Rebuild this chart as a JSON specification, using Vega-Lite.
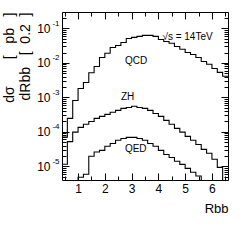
{
  "$schema": "https://vega.github.io/schema/vega-lite/v6.json",
  "width": 166,
  "height": 168,
  "autosize": "none",
  "padding": {"left": 62, "top": 12, "right": 13, "bottom": 61},
  "background": "white",
  "config": {
    "font": "Liberation Sans",
    "view": {"stroke": "black", "strokeWidth": 1},
    "axis": {"grid": false, "domain": false, "tickColor": "black", "labelColor": "black", "titleColor": "black", "labelFont": "Liberation Sans", "titleFont": "Liberation Sans", "titleFontWeight": "normal", "labelOverlap": false, "labelFlush": false}
  },
  "datasets": {
    "hist": [
      {"s": "QCD", "x": 0.4, "v": 7e-5}, {"s": "QCD", "x": 0.6, "v": 0.000246}, {"s": "QCD", "x": 0.8, "v": 0.00081},
      {"s": "QCD", "x": 1.0, "v": 0.0018}, {"s": "QCD", "x": 1.2, "v": 0.0027}, {"s": "QCD", "x": 1.4, "v": 0.0052},
      {"s": "QCD", "x": 1.6, "v": 0.0079}, {"s": "QCD", "x": 1.8, "v": 0.0144}, {"s": "QCD", "x": 2.0, "v": 0.019},
      {"s": "QCD", "x": 2.2, "v": 0.028}, {"s": "QCD", "x": 2.4, "v": 0.032}, {"s": "QCD", "x": 2.6, "v": 0.039},
      {"s": "QCD", "x": 2.8, "v": 0.051}, {"s": "QCD", "x": 3.0, "v": 0.055}, {"s": "QCD", "x": 3.2, "v": 0.059},
      {"s": "QCD", "x": 3.4, "v": 0.063}, {"s": "QCD", "x": 3.6, "v": 0.063}, {"s": "QCD", "x": 3.8, "v": 0.059},
      {"s": "QCD", "x": 4.0, "v": 0.048}, {"s": "QCD", "x": 4.2, "v": 0.042}, {"s": "QCD", "x": 4.4, "v": 0.037},
      {"s": "QCD", "x": 4.6, "v": 0.030}, {"s": "QCD", "x": 4.8, "v": 0.025}, {"s": "QCD", "x": 5.0, "v": 0.020},
      {"s": "QCD", "x": 5.2, "v": 0.0176}, {"s": "QCD", "x": 5.4, "v": 0.0144}, {"s": "QCD", "x": 5.6, "v": 0.011},
      {"s": "QCD", "x": 5.8, "v": 0.0091}, {"s": "QCD", "x": 6.0, "v": 0.0069}, {"s": "QCD", "x": 6.2, "v": 0.0053},
      {"s": "QCD", "x": 6.4, "v": 0.0041}, {"s": "QCD", "x": 6.6, "v": 0.0041},
      {"s": "ZH", "x": 0.4, "v": 1.15e-5}, {"s": "ZH", "x": 0.6, "v": 5.2e-5}, {"s": "ZH", "x": 0.8, "v": 9.8e-5},
      {"s": "ZH", "x": 1.0, "v": 0.000135}, {"s": "ZH", "x": 1.2, "v": 0.000166}, {"s": "ZH", "x": 1.4, "v": 0.0002},
      {"s": "ZH", "x": 1.6, "v": 0.000245}, {"s": "ZH", "x": 1.8, "v": 0.00028}, {"s": "ZH", "x": 2.0, "v": 0.00032},
      {"s": "ZH", "x": 2.2, "v": 0.00037}, {"s": "ZH", "x": 2.4, "v": 0.00042}, {"s": "ZH", "x": 2.6, "v": 0.00048},
      {"s": "ZH", "x": 2.8, "v": 0.00051}, {"s": "ZH", "x": 3.0, "v": 0.00055}, {"s": "ZH", "x": 3.2, "v": 0.00051},
      {"s": "ZH", "x": 3.4, "v": 0.00048}, {"s": "ZH", "x": 3.6, "v": 0.00042}, {"s": "ZH", "x": 3.8, "v": 0.00034},
      {"s": "ZH", "x": 4.0, "v": 0.00028}, {"s": "ZH", "x": 4.2, "v": 0.000215}, {"s": "ZH", "x": 4.4, "v": 0.000166},
      {"s": "ZH", "x": 4.6, "v": 0.000126}, {"s": "ZH", "x": 4.8, "v": 9.8e-5}, {"s": "ZH", "x": 5.0, "v": 7.4e-5},
      {"s": "ZH", "x": 5.2, "v": 5.7e-5}, {"s": "ZH", "x": 5.4, "v": 4.3e-5}, {"s": "ZH", "x": 5.6, "v": 3.1e-5},
      {"s": "ZH", "x": 5.8, "v": 2.4e-5}, {"s": "ZH", "x": 6.0, "v": 1.6e-5}, {"s": "ZH", "x": 6.2, "v": 9.3e-6},
      {"s": "ZH", "x": 6.4, "v": 1e-7}, {"s": "ZH", "x": 6.6, "v": 1e-7},
      {"s": "QED", "x": 0.8, "v": 1e-7}, {"s": "QED", "x": 1.0, "v": 4.8e-6}, {"s": "QED", "x": 1.2, "v": 5.9e-6},
      {"s": "QED", "x": 1.4, "v": 1.95e-5}, {"s": "QED", "x": 1.6, "v": 2.6e-5}, {"s": "QED", "x": 1.8, "v": 2.9e-5},
      {"s": "QED", "x": 2.0, "v": 3.8e-5}, {"s": "QED", "x": 2.2, "v": 4.6e-5}, {"s": "QED", "x": 2.4, "v": 5.7e-5},
      {"s": "QED", "x": 2.6, "v": 6.4e-5}, {"s": "QED", "x": 2.8, "v": 6.9e-5}, {"s": "QED", "x": 3.0, "v": 6.9e-5},
      {"s": "QED", "x": 3.2, "v": 6.4e-5}, {"s": "QED", "x": 3.4, "v": 5.7e-5}, {"s": "QED", "x": 3.6, "v": 4.6e-5},
      {"s": "QED", "x": 3.8, "v": 3.8e-5}, {"s": "QED", "x": 4.0, "v": 2.9e-5}, {"s": "QED", "x": 4.2, "v": 2.2e-5},
      {"s": "QED", "x": 4.4, "v": 1.8e-5}, {"s": "QED", "x": 4.6, "v": 1.4e-5}, {"s": "QED", "x": 4.8, "v": 1.14e-5},
      {"s": "QED", "x": 5.0, "v": 8.7e-6}, {"s": "QED", "x": 5.2, "v": 6.7e-6}, {"s": "QED", "x": 5.4, "v": 5.2e-6},
      {"s": "QED", "x": 5.6, "v": 1e-7}
    ],
    "labels": [
      {"x": 2.75, "v": 0.011, "t": "QCD"},
      {"x": 2.6, "v": 0.00105, "t": "ZH"},
      {"x": 2.75, "v": 3.1e-5, "t": "QED"},
      {"x": 4.15, "v": 0.055, "t": "√s = 14TeV"}
    ]
  },
  "layer": [
    {
      "data": {"name": "hist"},
      "mark": {"type": "line", "interpolate": "step-after", "clip": true, "color": "black", "strokeWidth": 1.1},
      "encoding": {
        "x": {
          "field": "x", "type": "quantitative",
          "scale": {"domain": [0.4, 6.6], "nice": false, "zero": false},
          "axis": {
            "orient": "bottom",
            "values": [0.5, 1, 1.5, 2, 2.5, 3, 3.5, 4, 4.5, 5, 5.5, 6, 6.5],
            "labels": false, "title": null,
            "tickSize": {"condition": {"test": "datum.value % 1 == 0", "value": -7}, "value": -4}
          }
        },
        "y": {
          "field": "v", "type": "quantitative",
          "scale": {"type": "log", "domain": [4e-6, 0.3], "nice": false},
          "axis": {
            "orient": "left",
            "values": [5e-6, 6e-6, 7e-6, 8e-6, 9e-6, 1e-5, 2e-5, 3e-5, 4e-5, 5e-5, 6e-5, 7e-5, 8e-5, 9e-5, 1e-4, 2e-4, 3e-4, 4e-4, 5e-4, 6e-4, 7e-4, 8e-4, 9e-4, 1e-3, 2e-3, 3e-3, 4e-3, 5e-3, 6e-3, 7e-3, 8e-3, 9e-3, 1e-2, 2e-2, 3e-2, 4e-2, 5e-2, 6e-2, 7e-2, 8e-2, 9e-2, 0.1, 0.2, 0.3],
            "labels": false, "title": null,
            "tickSize": {"condition": {"test": "datum.value == 0.1 || datum.value == 0.01 || datum.value == 0.001 || datum.value == 0.0001 || datum.value == 0.00001", "value": -7}, "value": -4}
          }
        },
        "detail": {"field": "s"}
      }
    },
    {
      "data": {"name": "hist"},
      "mark": {"type": "line", "opacity": 0, "clip": true},
      "encoding": {
        "x": {
          "field": "x", "type": "quantitative",
          "axis": {
            "orient": "top",
            "values": [0.5, 1, 1.5, 2, 2.5, 3, 3.5, 4, 4.5, 5, 5.5, 6, 6.5],
            "labels": false, "title": null,
            "tickSize": {"condition": {"test": "datum.value % 1 == 0", "value": -7}, "value": -4}
          }
        },
        "y": {
          "field": "v", "type": "quantitative",
          "axis": {
            "orient": "right",
            "values": [5e-6, 6e-6, 7e-6, 8e-6, 9e-6, 1e-5, 2e-5, 3e-5, 4e-5, 5e-5, 6e-5, 7e-5, 8e-5, 9e-5, 1e-4, 2e-4, 3e-4, 4e-4, 5e-4, 6e-4, 7e-4, 8e-4, 9e-4, 1e-3, 2e-3, 3e-3, 4e-3, 5e-3, 6e-3, 7e-3, 8e-3, 9e-3, 1e-2, 2e-2, 3e-2, 4e-2, 5e-2, 6e-2, 7e-2, 8e-2, 9e-2, 0.1, 0.2, 0.3],
            "labels": false, "title": null,
            "tickSize": {"condition": {"test": "datum.value == 0.1 || datum.value == 0.01 || datum.value == 0.001 || datum.value == 0.0001 || datum.value == 0.00001", "value": -7}, "value": -4}
          }
        },
        "detail": {"field": "s"}
      }
    },
    {
      "data": {"name": "hist"},
      "mark": {"type": "line", "opacity": 0, "clip": true},
      "encoding": {
        "x": {
          "field": "x", "type": "quantitative",
          "axis": {
            "orient": "bottom",
            "values": [1, 2, 3, 4, 5, 6],
            "format": "d", "ticks": false, "labelFontSize": 12, "labelPadding": 3,
            "title": "Rbb", "titleFontSize": 13, "titleAnchor": "end", "titleAlign": "right", "titlePadding": 8
          }
        },
        "y": {
          "field": "v", "type": "quantitative",
          "axis": {
            "orient": "left",
            "values": [0.1, 0.01, 0.001, 0.0001, 0.00001],
            "labelExpr": "'10'",
            "ticks": false, "labelFontSize": 12, "labelPadding": 12,
            "title": ["dσ\u00a0\u00a0\u00a0\u00a0\u00a0\u00a0\u00a0[\u00a0\u00a0\u00a0pb\u00a0\u00a0\u00a0]", "dRbb\u00a0\u00a0\u00a0[\u00a0\u00a00.2\u00a0\u00a0]"], "titleFontSize": 14, "titleAnchor": "end", "titleAlign": "right", "titlePadding": 4
          }
        },
        "detail": {"field": "s"}
      }
    },
    {
      "data": {"name": "hist"},
      "mark": {"type": "line", "opacity": 0, "clip": true},
      "encoding": {
        "x": {"field": "x", "type": "quantitative", "axis": null},
        "y": {
          "field": "v", "type": "quantitative",
          "axis": {
            "orient": "left",
            "values": [0.1, 0.01, 0.001, 0.0001, 0.00001],
            "labelExpr": "datum.value == 0.1 ? '-1' : datum.value == 0.01 ? '-2' : datum.value == 0.001 ? '-3' : datum.value == 0.0001 ? '-4' : '-5'",
            "ticks": false, "labelFontSize": 8, "labelPadding": 3, "labelOffset": -5, "title": null
          }
        },
        "detail": {"field": "s"}
      }
    },
    {
      "data": {"name": "labels"},
      "mark": {"type": "text", "align": "left", "baseline": "middle", "fontSize": 10, "font": "Liberation Sans", "color": "black"},
      "encoding": {
        "x": {"field": "x", "type": "quantitative", "axis": null},
        "y": {"field": "v", "type": "quantitative", "axis": null},
        "text": {"field": "t"}
      }
    }
  ],
  "resolve": {"axis": {"x": "independent", "y": "independent"}}
}
